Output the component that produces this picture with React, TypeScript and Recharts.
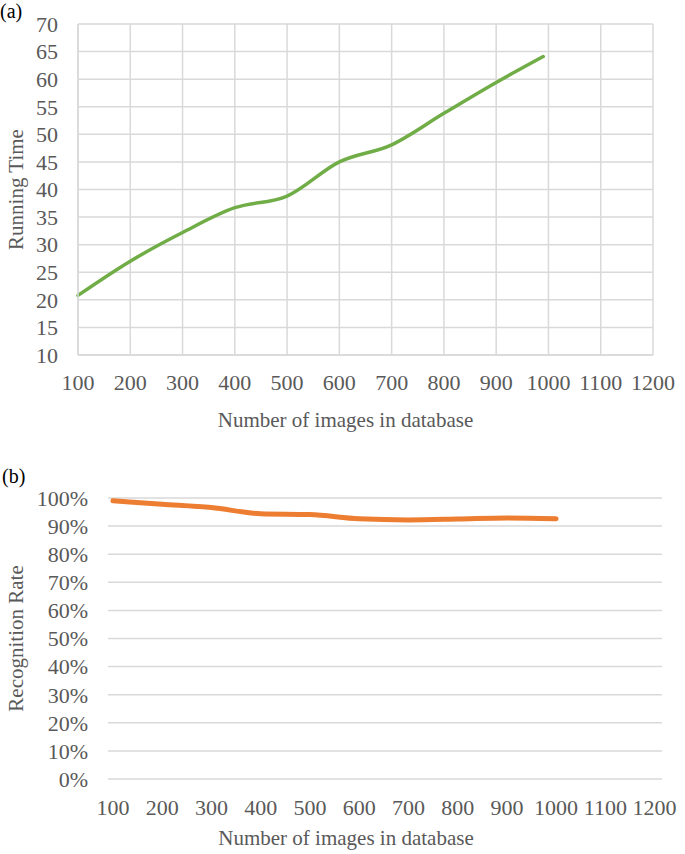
import { LineChart, Line, XAxis, YAxis, CartesianGrid } from "recharts";

const xTicks = [100, 200, 300, 400, 500, 600, 700, 800, 900, 1000, 1100, 1200];

const timeImages = [100, 200, 300, 400, 500, 600, 700, 800, 900, 990];
const runningTime = [20.8, 27.0, 32.2, 36.7, 38.8, 45.0, 48.1, 53.8, 59.4, 64.1];
const timeTicks = [10, 15, 20, 25, 30, 35, 40, 45, 50, 55, 60, 65, 70];

const rateImages = [100, 200, 300, 400, 500, 600, 700, 800, 900, 1000];
const recognitionRate = [0.99, 0.978, 0.966, 0.944, 0.941, 0.926, 0.922, 0.925, 0.929, 0.926];
const rateTicks = [0, 0.1, 0.2, 0.3, 0.4, 0.5, 0.6, 0.7, 0.8, 0.9, 1];

const timeData = timeImages.map((n, i) => ({ n, t: runningTime[i] }));
const rateData = rateImages.map((n, i) => ({ n, r: recognitionRate[i] }));

const FONT = "'Liberation Serif', 'Times New Roman', serif";
const TEXT = "#595959";
const GRID = "#d9d9d9";

const tickStyle = { fontSize: 22, fill: TEXT, fontFamily: FONT };
const titleStyle = { fontSize: 21, fill: TEXT, fontFamily: FONT };

export default function App() {
  return (
    <div style={{ position: "absolute", left: 0, top: 0, width: 685, height: 854, background: "#fff" }}>
      <div style={{ position: "absolute", left: 0, top: 0, fontFamily: FONT, fontSize: 20, color: "#000" }}>(a)</div>
      <div style={{ position: "absolute", left: 2, top: 465, fontFamily: FONT, fontSize: 20, color: "#000" }}>(b)</div>

      <div style={{ position: "absolute", left: 0, top: 0 }}>
        <LineChart width={685} height={440} data={timeData} margin={{ top: 24, right: 32, bottom: 0, left: 0 }}>
          <CartesianGrid stroke={GRID} strokeWidth={1.5} />
          <XAxis
            dataKey="n"
            type="number"
            domain={[100, 1200]}
            ticks={xTicks}
            interval={0}
            height={85}
            tick={tickStyle}
            tickLine={false}
            tickMargin={13}
            axisLine={{ stroke: GRID, strokeWidth: 1.5 }}
            label={{ value: "Number of images in database", position: "insideBottom", offset: 13, dx: -20, style: titleStyle }}
          />
          <YAxis
            type="number"
            domain={[10, 70]}
            ticks={timeTicks}
            interval={0}
            width={78}
            tick={tickStyle}
            tickLine={false}
            tickMargin={14}
            axisLine={{ stroke: GRID, strokeWidth: 1.5 }}
            label={{ value: "Running Time", angle: -90, position: "insideLeft", offset: 16, style: { ...titleStyle, textAnchor: "middle" } }}
          />
          <Line
            type="monotone"
            dataKey="t"
            stroke="#70ad47"
            strokeWidth={3.5}
            strokeLinecap="round"
            dot={false}
            isAnimationActive={false}
          />
        </LineChart>
      </div>

      <div style={{ position: "absolute", left: 0, top: 460 }}>
        <LineChart width={685} height={394} data={rateData} margin={{ top: 38, right: 23, bottom: 0, left: 0 }}>
          <CartesianGrid stroke={GRID} strokeWidth={1.5} vertical={false} />
          <XAxis
            dataKey="n"
            type="number"
            domain={[90, 1215]}
            ticks={xTicks}
            interval={0}
            height={75}
            tick={tickStyle}
            tickLine={false}
            tickMargin={14}
            axisLine={false}
            label={{ value: "Number of images in database", position: "insideBottom", offset: 9, dx: -39, style: titleStyle }}
          />
          <YAxis
            type="number"
            domain={[0, 1]}
            ticks={rateTicks}
            interval={0}
            width={108}
            tick={tickStyle}
            tickLine={false}
            tickMargin={14}
            axisLine={false}
            tickFormatter={(v: number) => `${Math.round(v * 100)}%`}
            label={{ value: "Recognition Rate", angle: -90, position: "insideLeft", offset: 16, style: { ...titleStyle, textAnchor: "middle" } }}
          />
          <Line
            type="monotone"
            dataKey="r"
            stroke="#ed7d31"
            strokeWidth={5}
            strokeLinecap="round"
            dot={false}
            isAnimationActive={false}
          />
        </LineChart>
      </div>
    </div>
  );
}
